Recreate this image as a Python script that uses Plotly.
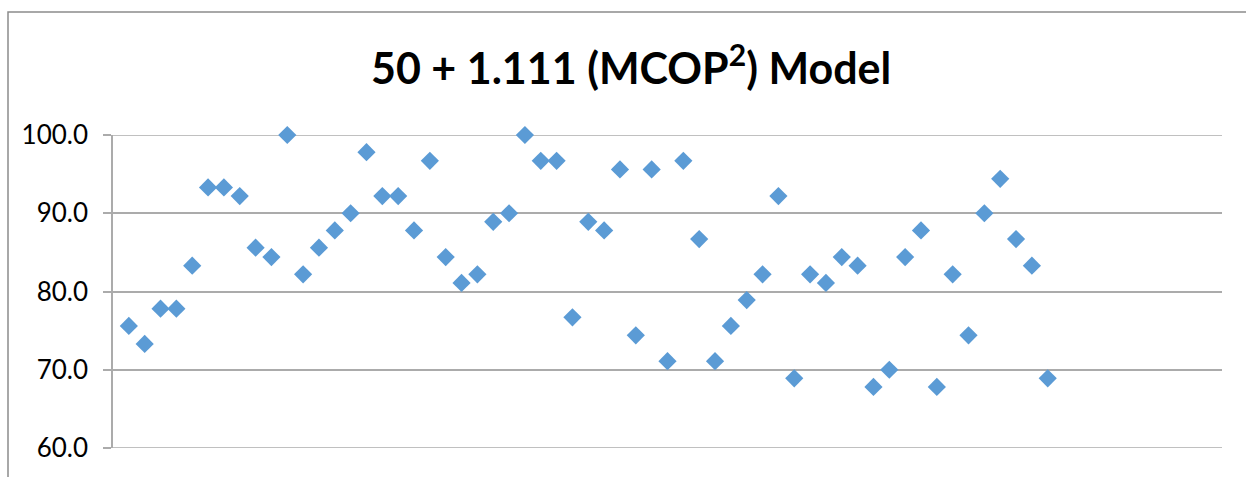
import plotly.graph_objects as go

title_text = "<b>50 + 1.111 (MCOP<sup>2</sup>) Model</b>"
x_values = list(range(1, 60))
y_values = [
    75.6, 73.3, 77.8, 77.8, 83.3, 93.3, 93.3, 92.2, 85.6, 84.4,
    100.0, 82.2, 85.6, 87.8, 90.0, 97.8, 92.2, 92.2, 87.8, 96.7,
    84.4, 81.1, 82.2, 88.9, 90.0, 100.0, 96.7, 96.7, 76.7, 88.9,
    87.8, 95.6, 74.4, 95.6, 71.1, 96.7, 86.7, 71.1, 75.6, 78.9,
    82.2, 92.2, 68.9, 82.2, 81.1, 84.4, 83.3, 67.8, 70.0, 84.4,
    87.8, 67.8, 82.2, 74.4, 90.0, 94.4, 86.7, 83.3, 68.9,
]
y_ticks = [60, 70, 80, 90, 100]
y_tick_labels = ["60.0", "70.0", "80.0", "90.0", "100.0"]

W, H = 1246, 477
L, R, T, B = 113, 24, 135, 29
pw, ph = W - L - R, H - T - B

def px(xp):
    return (xp - L) / pw

def py(yp):
    return (H - B - yp) / ph

grid = "#ABABAB"

fig = go.Figure()
fig.add_trace(go.Scatter(
    x=x_values, y=y_values, mode="markers",
    marker=dict(symbol="diamond", size=14, color="#5B9BD5", line=dict(width=0)),
    hoverinfo="x+y", showlegend=False, cliponaxis=False,
))

shapes = [dict(
    type="rect", xref="paper", yref="paper",
    x0=px(8), x1=px(1260), y0=py(490), y1=py(12),
    line=dict(color="#8C8C8C", width=1.5), fillcolor="rgba(0,0,0,0)", layer="below",
)]
for yv in (y_ticks[0], y_ticks[-1]):
    shapes.append(dict(
        type="line", xref="paper", yref="y", x0=0, x1=1, y0=yv, y1=yv,
        line=dict(color=grid, width=1.5), layer="below",
    ))

fig.update_layout(
    width=W, height=H,
    margin=dict(l=L, r=R, t=T, b=B, autoexpand=False),
    paper_bgcolor="white", plot_bgcolor="white",
    font=dict(family="Lato, sans-serif", color="#000000"),
    xaxis=dict(range=[0, 70], showgrid=False, zeroline=False, showticklabels=False,
               showline=False, ticks="", automargin=False),
    yaxis=dict(range=[60, 100], tickvals=y_ticks, ticktext=y_tick_labels,
               showgrid=True, gridcolor=grid, gridwidth=1.5, zeroline=False,
               showline=True, linecolor=grid, linewidth=1.5,
               ticks="outside", ticklen=8, tickcolor=grid, tickwidth=1.5,
               ticklabelstandoff=10,
               tickfont=dict(size=26, family="Lato, sans-serif"), automargin=False),
    annotations=[dict(
        text=title_text, xref="paper", yref="paper",
        x=px(631), y=py(64), xanchor="center", yanchor="middle",
        showarrow=False, font=dict(size=43, family="Lato, sans-serif", color="#000000"),
    )],
    shapes=shapes,
)

fig.write_html(
    "out.html",
    config={"displayModeBar": False},
    post_script="document.body.style.margin='0';document.body.style.overflow='hidden';",
)
